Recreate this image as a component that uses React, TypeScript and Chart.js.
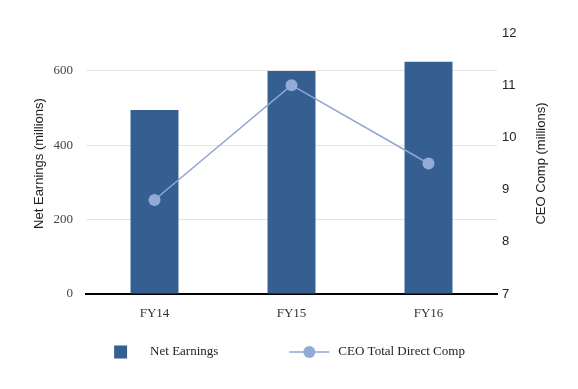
import React, { useEffect, useRef } from 'react';
import { Chart, registerables } from 'chart.js';

Chart.register(...registerables);

const categories = ['FY14', 'FY15', 'FY16'];
const netEarnings = [495, 600, 625];
const ceoComp = [8.8, 11.0, 9.5];
const leftTitle = 'Net Earnings (millions)';
const rightTitle = 'CEO Comp (millions)';
const barLabel = 'Net Earnings';
const lineLabel = 'CEO Total Direct Comp';

const BAR_COLOR = '#365f91';
const LINE_COLOR = '#8fa6d0';
const POINT_COLOR = '#93aad7';

const SERIF = '"Liberation Serif", "Times New Roman", serif';
const SANS = '"Liberation Sans", Arial, sans-serif';

const rightTitlePlugin = {
  id: 'rightTitle',
  afterDraw(chart: any) {
    const ctx = chart.ctx as CanvasRenderingContext2D;
    const s = chart.scales.y1;
    ctx.save();
    ctx.font = '13px ' + SANS;
    ctx.fillStyle = '#222';
    ctx.textAlign = 'center';
    ctx.textBaseline = 'middle';
    ctx.translate(s.right - 37, (s.top + s.bottom) / 2);
    ctx.rotate(-Math.PI / 2);
    ctx.fillText(rightTitle, 0, 0);
    ctx.restore();
  },
};

const legendPlugin = {
  id: 'customLegend',
  afterDraw(chart: any) {
    const ctx = chart.ctx as CanvasRenderingContext2D;
    const ca = chart.chartArea;
    const bar = chart.data.datasets[0];
    const line = chart.data.datasets[1];
    ctx.save();
    ctx.font = '13px ' + SERIF;
    ctx.textBaseline = 'middle';
    ctx.textAlign = 'left';
    const w1 = ctx.measureText(bar.label).width;
    const w2 = ctx.measureText(line.label).width;
    const box = 13, g1 = 23, gap = 71, glyph = 40, g2 = 9;
    const total = box + g1 + w1 + gap + glyph + g2 + w2;
    let x = (ca.left + ca.right) / 2 - total / 2 - 2;
    const y = ca.bottom + 58;
    ctx.fillStyle = bar.backgroundColor;
    ctx.fillRect(x, y - box / 2, box, box);
    x += box + g1;
    ctx.fillStyle = '#222';
    ctx.fillText(bar.label, x, y);
    x += w1 + gap;
    ctx.strokeStyle = line.borderColor;
    ctx.lineWidth = 1.5;
    ctx.beginPath();
    ctx.moveTo(x, y);
    ctx.lineTo(x + glyph, y);
    ctx.stroke();
    ctx.fillStyle = line.pointBackgroundColor;
    ctx.beginPath();
    ctx.arc(x + glyph / 2, y, 6, 0, Math.PI * 2);
    ctx.fill();
    x += glyph + g2;
    ctx.fillStyle = '#222';
    ctx.fillText(line.label, x, y);
    ctx.restore();
  },
};

export default function App() {
  const ref = useRef<HTMLCanvasElement | null>(null);

  useEffect(() => {
    document.body.style.margin = '0';
    const canvas = ref.current;
    if (!canvas) return;
    const chart = new Chart(canvas, {
      type: 'bar',
      data: {
        labels: categories,
        datasets: [
          {
            type: 'bar',
            label: barLabel,
            data: netEarnings,
            backgroundColor: BAR_COLOR,
            borderWidth: 0,
            yAxisID: 'y',
            categoryPercentage: 1,
            barPercentage: 0.35,
            order: 1,
          } as any,
          {
            type: 'line',
            label: lineLabel,
            data: ceoComp,
            borderColor: LINE_COLOR,
            borderWidth: 1.5,
            pointBackgroundColor: POINT_COLOR,
            pointBorderColor: POINT_COLOR,
            pointRadius: 6,
            pointBorderWidth: 0,
            tension: 0,
            yAxisID: 'y1',
            order: 0,
          } as any,
        ],
      },
      options: {
        animation: false,
        responsive: true,
        maintainAspectRatio: false,
        layout: { padding: { top: 33, left: 0, right: 0, bottom: 55 } },
        plugins: {
          legend: { display: false },
          tooltip: { enabled: false },
        },
        scales: {
          x: {
            grid: { display: false, drawTicks: false },
            border: { display: true, color: '#000', width: 2 },
            ticks: { font: { family: SERIF, size: 13 }, color: '#333', padding: 12 },
            afterFit: (s: any) => { s.height = 40; },
          },
          y: {
            position: 'left',
            min: 0,
            max: 702,
            grid: { color: '#e4e4e4', lineWidth: 1, drawTicks: false },
            border: { display: false },
            ticks: { stepSize: 200, includeBounds: false, font: { family: SERIF, size: 13 }, color: '#444', padding: 13 },
            title: { display: true, text: leftTitle, font: { family: SANS, size: 13 }, color: '#222', padding: { top: 32, bottom: 0 } },
            afterFit: (s: any) => { s.width = 86; },
          },
          y1: {
            position: 'right',
            min: 7,
            max: 12,
            grid: { display: false, drawTicks: false },
            border: { display: false },
            ticks: { stepSize: 1, font: { family: SANS, size: 13 }, color: '#222', padding: 5 },
            title: { display: false },
            afterFit: (s: any) => { s.width = 81; },
          },
        },
      } as any,
      plugins: [rightTitlePlugin, legendPlugin],
    });
    return () => chart.destroy();
  }, []);

  return (
    <div style={{ width: 578, height: 389, position: 'relative' }}>
      <canvas ref={ref} />
    </div>
  );
}
